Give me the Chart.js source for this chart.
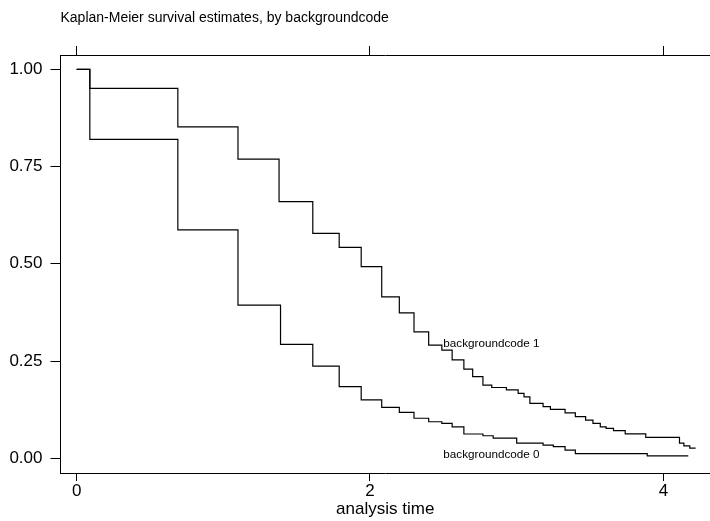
<!DOCTYPE html>
<html>
<head>
<meta charset="utf-8">
<script src="https://cdn.jsdelivr.net/npm/chart.js@4.4.1/dist/chart.umd.min.js"></script>
<style>
  html, body { margin: 0; padding: 0; background: #fff; }
  #wrap { width: 710px; height: 521px; }
</style>
</head>
<body>
<div id="wrap"><canvas id="kmChart" width="710" height="521"></canvas></div>
<script>
// analysis time of each step, and survival right after it
const times1 = [0, 0.09, 0.69, 1.10, 1.38, 1.61, 1.79, 1.94, 2.08, 2.20, 2.30, 2.40, 2.49, 2.56, 2.64, 2.70, 2.77, 2.83, 2.93, 3.01, 3.05, 3.09, 3.18, 3.23, 3.33, 3.40, 3.47, 3.52, 3.57, 3.61, 3.66, 3.74, 3.88, 4.11, 4.14, 4.18, 4.22];
const surv1  = [1, 0.951, 0.852, 0.769, 0.660, 0.578, 0.542, 0.493, 0.415, 0.374, 0.325, 0.291, 0.278, 0.253, 0.229, 0.210, 0.188, 0.182, 0.176, 0.167, 0.158, 0.141, 0.133, 0.126, 0.117, 0.107, 0.098, 0.090, 0.081, 0.077, 0.071, 0.063, 0.054, 0.039, 0.032, 0.026, 0.026];

const times0 = [0, 0.09, 0.69, 1.10, 1.39, 1.61, 1.79, 1.94, 2.08, 2.20, 2.30, 2.40, 2.49, 2.56, 2.64, 2.77, 2.84, 3.00, 3.18, 3.25, 3.33, 3.40, 3.89, 4.17];
const surv0  = [1, 0.820, 0.587, 0.394, 0.293, 0.237, 0.184, 0.150, 0.131, 0.118, 0.103, 0.094, 0.090, 0.081, 0.0625, 0.058, 0.052, 0.039, 0.034, 0.030, 0.021, 0.012, 0.006, 0.006];

const groupNames = ['backgroundcode 1', 'backgroundcode 0'];
const xTicks = [0, 2, 4];
const yTicks = [0, 0.25, 0.5, 0.75, 1];

// where the curve names sit (data units)
const nameAnchors = [[2.5, 0.295], [2.5, 0.01]];

const FONT = '"Liberation Sans", Arial, Helvetica, sans-serif';
Chart.defaults.font.family = FONT;
Chart.defaults.color = '#000';

const toPts = (t, s) => t.map((v, i) => ({ x: v, y: s[i] }));
const fixTicks = list => s => { s.ticks = list.map(v => ({ value: v })); };

// curve names drawn next to the lines
const curveNames = {
    id: 'curveNames',
    afterDatasetsDraw(chart) {
        const { ctx, scales: { x, y } } = chart;
        ctx.save();
        ctx.font = '11.7px ' + FONT;
        ctx.fillStyle = '#000';
        ctx.textBaseline = 'middle';
        groupNames.forEach((txt, i) => {
            ctx.fillText(txt, x.getPixelForValue(nameAnchors[i][0]), y.getPixelForValue(nameAnchors[i][1]));
        });
        ctx.restore();
    }
};

const lineStyle = { stepped: 'before', pointRadius: 0, borderColor: '#000', borderWidth: 1.2, fill: false };

new Chart(document.getElementById('kmChart'), {
    type: 'line',
    data: {
        datasets: [
            { label: groupNames[0], data: toPts(times1, surv1), ...lineStyle },
            { label: groupNames[1], data: toPts(times0, surv0), ...lineStyle }
        ]
    },
    options: {
        responsive: false,
        animation: false,
        layout: { padding: 0 },
        plugins: {
            legend: { display: false },
            tooltip: { enabled: false },
            title: {
                display: true,
                text: 'Kaplan-Meier survival estimates, by backgroundcode',
                align: 'start',
                fullSize: false,
                color: '#000',
                font: { size: 14, weight: 'normal' },
                padding: { top: 10, bottom: 0 }
            }
        },
        scales: {
            x: {
                type: 'linear', position: 'bottom', min: -0.11, max: 4.318,
                afterBuildTicks: fixTicks(xTicks),
                afterFit: s => { s.height = 48; },
                grid: { drawOnChartArea: false, tickLength: 8, tickColor: '#000' },
                border: { color: '#000', width: 1 },
                ticks: { font: { size: 17 }, padding: 0, maxRotation: 0, callback: v => String(v) },
                title: { display: true, text: 'analysis time', font: { size: 17 }, padding: { top: 0, bottom: 1 } }
            },
            x2: {
                type: 'linear', position: 'top', min: -0.11, max: 4.318,
                afterBuildTicks: fixTicks(xTicks),
                afterFit: s => { s.height = 28.2; },
                grid: { drawOnChartArea: false, tickLength: 9, tickColor: '#000' },
                border: { color: '#000', width: 1 },
                ticks: { display: false }
            },
            y: {
                type: 'linear', min: -0.0378, max: 1.0368,
                afterBuildTicks: fixTicks(yTicks),
                afterFit: s => { s.width = 60.5; },
                grid: { drawOnChartArea: false, tickLength: 10, tickColor: '#000' },
                border: { color: '#000', width: 1 },
                ticks: { font: { size: 17 }, padding: 8, callback: v => v.toFixed(2) }
            }
        }
    },
    plugins: [curveNames]
});
</script>
</body>
</html>
